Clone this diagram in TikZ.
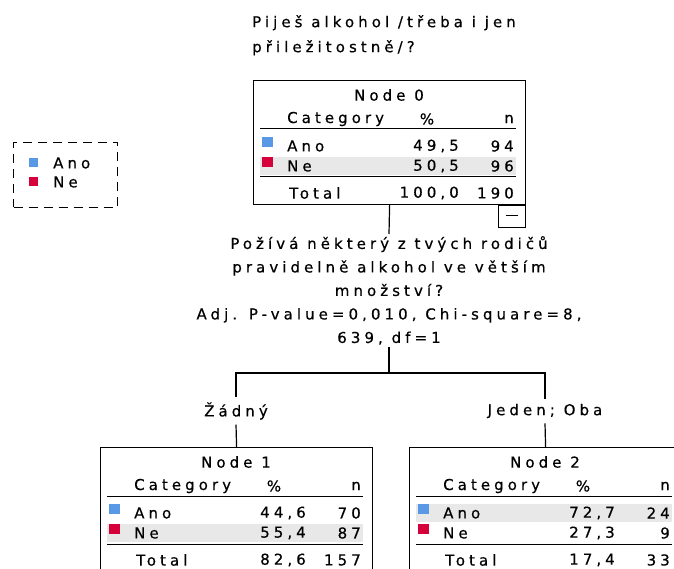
\documentclass[tikz,border=0pt]{standalone}
\usepackage{fontspec}
\setmainfont{DejaVu Sans}[LetterSpace=27, FakeBold=0.5]
\usepackage{tikz}

\definecolor{anoblue}{RGB}{88,152,228}
\definecolor{nered}{RGB}{214,0,58}
\definecolor{rowgray}{RGB}{232,232,232}

\tikzset{
  txt/.style={inner sep=0pt, font=\fontsize{15}{23.5}\selectfont},
  tbox/.style={draw, line width=1.2pt, minimum width=272pt, minimum height=124pt,
    anchor=north west, inner sep=0pt},
  conn/.style={line width=1.2pt}
}

\begin{document}
\begin{tikzpicture}[x=1pt,y=-1pt]
    \useasboundingbox (0,0) rectangle (674,569);
    \clip (0,0) rectangle (674,569);
    % question of the root node
    \node[txt, align=left, anchor=north west, font=\fontsize{15}{25}\selectfont]
      (head) at (252,15) {Piješ alkohol /třeba i jen\\přiležitostně/?};
    % legend
    \node[draw, dashed, dash pattern=on 9pt off 6pt, line width=1pt,
      minimum width=104pt, minimum height=65pt, anchor=north west] (leg) at (13,142) {};
    \fill[anoblue] (29,158) rectangle (38,167);
    \fill[nered] (29,177) rectangle (38,186);
    \node[txt, anchor=west] (leg-a) at (53,163) {Ano};
    \node[txt, anchor=west] (leg-n) at (53,182) {Ne};
    % the three nodes of the tree
    \foreach \nm/\L/\T/\k/\ap/\an/\np/\nn/\tp/\tn/\g in {
        n0/253/80/0/{49,5}/94/{50,5}/96/{100,0}/190/77,
        n1/100/447/1/{44,6}/70/{55,4}/87/{82,6}/157/77,
        n2/409/447/2/{72,7}/24/{27,3}/9/{17,4}/33/57}{
      \fill[rowgray] ({\L+7},{\T+\g}) rectangle ({\L+263},{\T+\g+18});
      \node[tbox] (\nm) at (\L,\T) {};
      \node[txt] (\nm-h) at ({\L+136},{\T+15}) {Node \k};
      \node[txt, anchor=west] (\nm-c) at ({\L+34},{\T+39}) {Category};
      \node[txt] (\nm-p) at ({\L+174},{\T+39}) {\%};
      \node[txt, anchor=east] (\nm-n) at ({\L+261},{\T+39}) {n};
      \draw[line width=1pt] ({\L+7},{\T+49}) -- ({\L+263},{\T+49});
      \fill[anoblue] ({\L+9},{\T+57}) rectangle ({\L+20},{\T+67});
      \fill[nered] ({\L+9},{\T+77}) rectangle ({\L+20},{\T+87});
      \node[txt, anchor=west] (\nm-a) at ({\L+34},{\T+66}) {Ano};
      \node[txt, anchor=east] at ({\L+206},{\T+66}) {\ap};
      \node[txt, anchor=east] at ({\L+261},{\T+66}) {\an};
      \node[txt, anchor=west] (\nm-e) at ({\L+34},{\T+86}) {Ne};
      \node[txt, anchor=east] at ({\L+206},{\T+86}) {\np};
      \node[txt, anchor=east] at ({\L+261},{\T+86}) {\nn};
      \draw[line width=1pt] ({\L+7},{\T+97}) -- ({\L+263},{\T+97});
      \node[txt, anchor=west] (\nm-t) at ({\L+36},{\T+113}) {Total};
      \node[txt, anchor=east] at ({\L+206},{\T+113}) {\tp};
      \node[txt, anchor=east] at ({\L+261},{\T+113}) {\tn};
    }
    % collapse button
    \node[draw, line width=1pt, minimum width=27pt, minimum height=22pt,
      anchor=north east, inner sep=0pt] (btn) at (n0.south east) {\rule[3pt]{12pt}{1pt}};
    % split
    \node[txt, align=center, anchor=north, inner sep=2pt] (q) at (389,234)
      {Požívá některý z tvých rodičů\\pravidelně alkohol ve větším\\množství?\\
       Adj. P-value=0,010, Chi-square=8,\\639, df=1};
    \coordinate (j) at (389,373);
    \node[txt, inner ysep=5pt] (l1) at (236,411) {Žádný};
    \node[txt, inner ysep=5pt] (l2) at (545,411) {Jeden; Oba};
    \draw[conn] (n0.south) -- (q.north);
    \draw[conn] (q.south) -- (j);
    \draw[conn] (l1.north) |- (j) -| (l2.north);
    \draw[conn] (l1.south) -- (n1.north);
    \draw[conn] (l2.south) -- (n2.north);
\end{tikzpicture}
\end{document}
